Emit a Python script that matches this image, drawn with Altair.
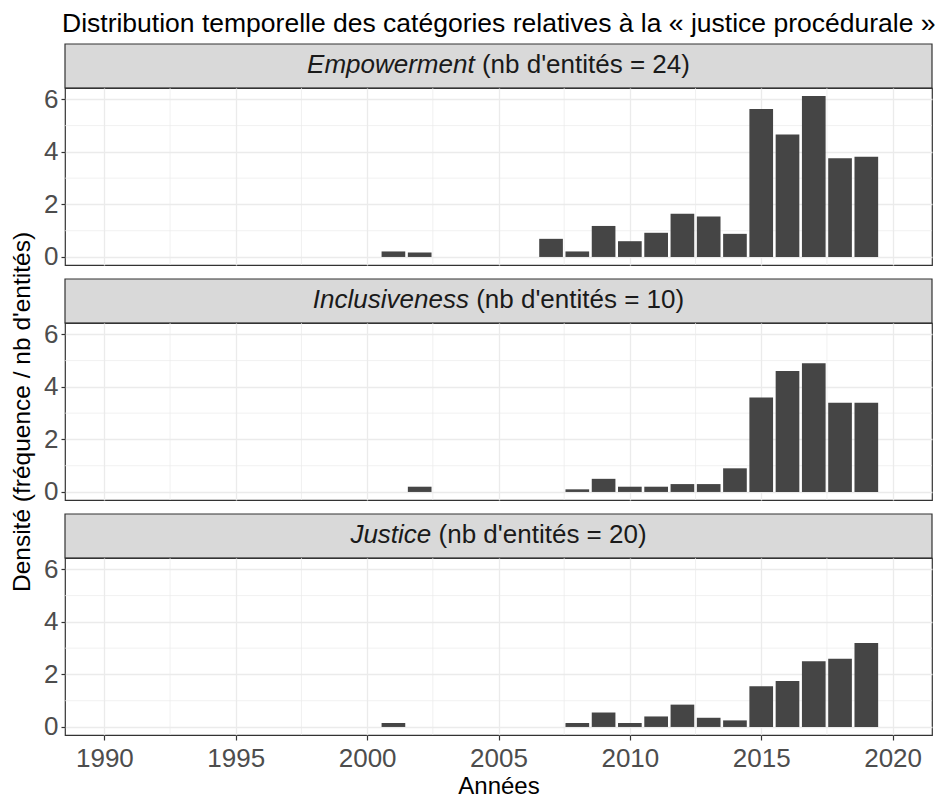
import altair as alt
import pandas as pd

FONT = "Liberation Sans"

# ---------------- data ----------------
title_text = "Distribution temporelle des catégories relatives à la « justice procédurale »"
x_title = "Années"
y_title = "Densité (fréquence / nb d'entités)"

categories = ["Empowerment", "Inclusiveness", "Justice"]
n_entities = [24, 10, 20]

emp_years = [2001, 2002, 2007, 2008, 2009, 2010, 2011, 2012, 2013, 2014, 2015, 2016, 2017, 2018, 2019]
emp_density = [0.21, 0.17, 0.69, 0.21, 1.18, 0.60, 0.92, 1.64, 1.54, 0.88, 5.63, 4.66, 6.125, 3.76, 3.81]

inc_years = [2002, 2008, 2009, 2010, 2011, 2012, 2013, 2014, 2015, 2016, 2017, 2018, 2019]
inc_density = [0.2, 0.1, 0.5, 0.2, 0.2, 0.3, 0.3, 0.9, 3.6, 4.6, 4.9, 3.4, 3.4]

jus_years = [2001, 2008, 2009, 2010, 2011, 2012, 2013, 2014, 2015, 2016, 2017, 2018, 2019]
jus_density = [0.15, 0.15, 0.55, 0.15, 0.4, 0.85, 0.35, 0.25, 1.55, 1.75, 2.5, 2.6, 3.2]

x_ticks = [1990, 1995, 2000, 2005, 2010, 2015, 2020]
x_minor = [1992.5, 1997.5, 2002.5, 2007.5, 2012.5, 2017.5]
y_ticks = [0, 2, 4, 6]
y_minor = [1, 3, 5]
bin_width = 1
x_domain = [1988.5, 2021.5]
y_domain = [-0.306, 6.431]

series = [(emp_years, emp_density), (inc_years, inc_density), (jus_years, jus_density)]

# ---------------- layout ----------------
W = 867
HP = 177
HS = 44
GAP = 14
STRIP_FS = 26
TICK_FS = 26
GRID = "#EBEBEB"
BORDER = "#333333"

ARIAL = {"E": 667, "m": 833, "p": 556, "o": 556, "w": 722, "e": 556, "r": 333, "n": 556,
         "t": 278, "I": 278, "c": 500, "l": 222, "u": 556, "s": 500, "i": 222, "v": 500,
         "J": 500, "(": 333, ")": 333, "b": 556, "d": 556, "'": 191, "é": 556, "=": 584,
         " ": 278}


def tw(s, size):
    return sum(ARIAL.get(c, 556) for c in s) * size / 1000.0


def strip(cat, n):
    normal = f"(nb d'entités = {n})"
    w_it = tw(cat, STRIP_FS)
    w_sp = tw(" ", STRIP_FS)
    w_no = tw(normal, STRIP_FS)
    left = W / 2 - (w_it + w_sp + w_no) / 2
    split = left + w_it
    df = pd.DataFrame({"italic": [cat], "normal": [normal]})
    base = alt.Chart(df)
    rect = base.mark_rect(fill="#D9D9D9", stroke=BORDER, strokeWidth=1.2).encode(
        x=alt.value(0), x2=alt.value(W), y=alt.value(GAP), y2=alt.value(GAP + HS))
    it = base.mark_text(align="right", baseline="alphabetic", font=FONT, fontSize=STRIP_FS,
                        fontStyle="italic", color="#1A1A1A").encode(
        text="italic:N", x=alt.value(split), y=alt.value(GAP + 29))
    no = base.mark_text(align="left", baseline="alphabetic", font=FONT, fontSize=STRIP_FS,
                        color="#1A1A1A").encode(
        text="normal:N", x=alt.value(split + w_sp), y=alt.value(GAP + 29))
    return alt.layer(rect, it, no).properties(
        width=W, height=GAP + HS, view=alt.ViewBackground(stroke="transparent"))


def panel(years, dens, show_x, show_ytitle):
    df = pd.DataFrame({
        "start": [y - bin_width / 2 for y in years],
        "end": [y + bin_width / 2 for y in years],
        "density": dens,
        "zero": [0] * len(years),
    })
    xscale = alt.Scale(domain=x_domain, nice=False, zero=False)
    yscale = alt.Scale(domain=y_domain, nice=False, zero=False)
    if show_x:
        xaxis = alt.Axis(values=x_ticks, grid=True, gridColor=GRID, gridWidth=1.3, domain=False,
                         labelFont=FONT, labelFontSize=TICK_FS, labelColor="#4D4D4D",
                         tickColor=BORDER, tickSize=5, tickWidth=1.2, labelPadding=5,
                         format="d", title=x_title, titleFont=FONT, titleFontSize=24,
                         titleFontWeight="normal", titleColor="black", titlePadding=3)
    else:
        xaxis = alt.Axis(values=x_ticks, grid=True, gridColor=GRID, gridWidth=1.3, domain=False,
                         labels=False, ticks=False, title=None)
    yaxis_kw = dict(values=y_ticks, grid=True, gridColor=GRID, gridWidth=1.3, domain=False,
                    labelFont=FONT, labelFontSize=TICK_FS, labelColor="#4D4D4D",
                    tickColor=BORDER, tickSize=4, tickWidth=1.2, labelPadding=3)
    if show_ytitle:
        yaxis = alt.Axis(title=y_title, titleFont=FONT, titleFontSize=24.5,
                         titleFontWeight="normal", titleColor="black", titlePadding=9, **yaxis_kw)
    else:
        yaxis = alt.Axis(title=None, **yaxis_kw)

    bars = alt.Chart(df).mark_bar(fill="#454545", xOffset=1.3, x2Offset=-1.3).encode(
        x=alt.X("start:Q", scale=xscale, axis=xaxis),
        x2="end:Q",
        y=alt.Y("density:Q", scale=yscale, axis=yaxis),
        y2="zero:Q",
    )
    xmin = alt.Chart(pd.DataFrame({"x": x_minor})).mark_rule(color=GRID, strokeWidth=0.7).encode(
        x=alt.X("x:Q", scale=xscale, axis=xaxis))
    ymin = alt.Chart(pd.DataFrame({"y": y_minor})).mark_rule(color=GRID, strokeWidth=0.7).encode(
        y=alt.Y("y:Q", scale=yscale, axis=yaxis))
    return alt.layer(xmin, ymin, bars).properties(
        width=W, height=HP,
        view=alt.ViewBackground(stroke=BORDER, strokeWidth=1.2, fill="white"))


charts = []
for i, (cat, n) in enumerate(zip(categories, n_entities)):
    yrs, dens = series[i]
    charts.append(strip(cat, n))
    charts.append(panel(yrs, dens, show_x=(i == 2), show_ytitle=(i == 1)))

chart = alt.vconcat(*charts, spacing=0, bounds="flush").properties(
    padding={"left": 0, "top": 3, "right": 0, "bottom": 0},
    title=alt.TitleParams(text=title_text, anchor="start", frame="group", font=FONT,
                          fontSize=26.5, fontWeight="normal", color="black",
                          baseline="alphabetic", offset=-29, dx=-3),
).configure(background="white")

chart.save("out.html", embed_options={"renderer": "svg", "actions": False})
